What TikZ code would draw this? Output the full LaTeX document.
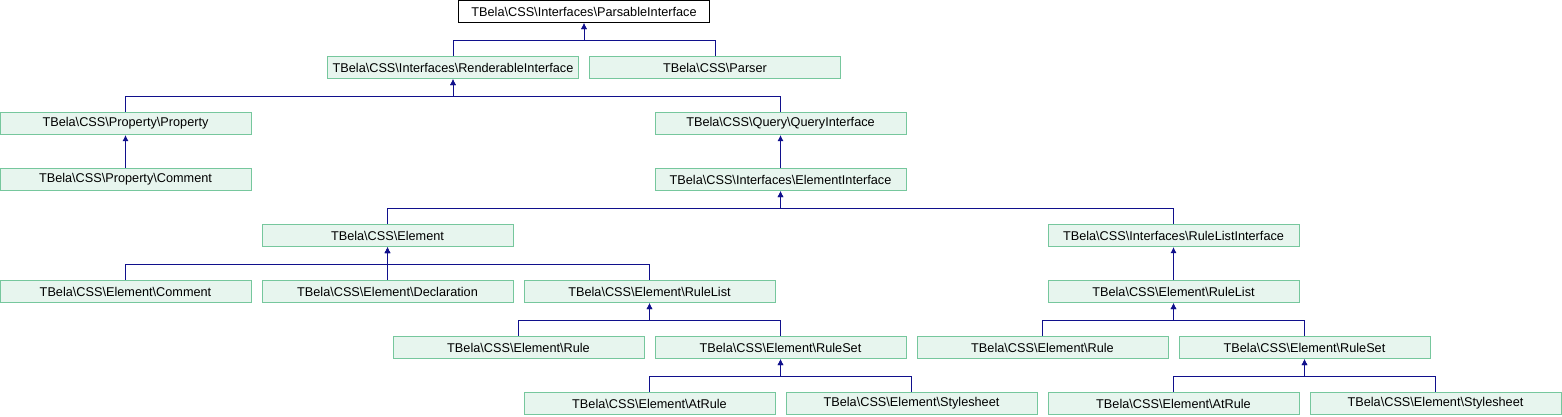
\documentclass[tikz,border=0pt]{standalone}
\usepackage{fontspec}
\setmainfont{Liberation Sans}
\usetikzlibrary{arrows.meta}
\definecolor{clsfill}{HTML}{E7F5EE}
\definecolor{clsline}{HTML}{76C79D}
\definecolor{inhblue}{HTML}{10108C}
\newcommand{\bks}{\textbackslash}
\begin{document}
\begin{tikzpicture}[x=1pt, y=-1pt,
		cls/.style={rectangle, draw=clsline, fill=clsfill, line width=1pt, minimum width=251pt, minimum height=22pt, inner sep=0pt, font=\fontsize{12.7}{14}\selectfont},
		root/.style={cls, draw=black, fill=white},
		inh/.style={{Latex[length=6pt,width=6pt]}-, draw=inhblue, line width=1pt}
		]
		\useasboundingbox (0,0) rectangle (1562,416);
		% row 0 and 1
		\node[root] (parsable) at (584,11.5) {TBela\bks CSS\bks Interfaces\bks ParsableInterface};
		\node[cls] (renderable) at (453,67.5) {TBela\bks CSS\bks Interfaces\bks RenderableInterface};
		\node[cls] (parser) at (715,67.5) {TBela\bks CSS\bks Parser};
		
		% row 2 and 3
		\node[cls] (property) at (125.5,123.5) {TBela\bks CSS\bks Property\bks Property};
		\node[cls] (query) at (780.5,123.5) {TBela\bks CSS\bks Query\bks QueryInterface};
		\node[cls] (propcomment) at (125.5,179.5) {TBela\bks CSS\bks Property\bks Comment};
		\node[cls] (eliface) at (780.5,179.5) {TBela\bks CSS\bks Interfaces\bks ElementInterface};
		
		% row 4 and 5
		\node[cls] (element) at (387.5,235.5) {TBela\bks CSS\bks Element};
		\node[cls] (rliface) at (1173.5,235.5) {TBela\bks CSS\bks Interfaces\bks RuleListInterface};
		\node[cls] (elcomment) at (125.5,291.5) {TBela\bks CSS\bks Element\bks Comment};
		\node[cls] (declaration) at (387.5,291.5) {TBela\bks CSS\bks Element\bks Declaration};
		\node[cls] (rulelist) at (649.5,291.5) {TBela\bks CSS\bks Element\bks RuleList};
		\node[cls] (rulelistb) at (1173.5,291.5) {TBela\bks CSS\bks Element\bks RuleList};
		
		% row 6 and 7
		\node[cls] (rule) at (518.5,347.5) {TBela\bks CSS\bks Element\bks Rule};
		\node[cls] (ruleset) at (780.5,347.5) {TBela\bks CSS\bks Element\bks RuleSet};
		\node[cls] (ruleb) at (1042.5,347.5) {TBela\bks CSS\bks Element\bks Rule};
		\node[cls] (rulesetb) at (1304.5,347.5) {TBela\bks CSS\bks Element\bks RuleSet};
		\node[cls] (atrule) at (649.5,403.5) {TBela\bks CSS\bks Element\bks AtRule};
		\node[cls] (stylesheet) at (911.5,403.5) {TBela\bks CSS\bks Element\bks Stylesheet};
		\node[cls] (atruleb) at (1173.5,403.5) {TBela\bks CSS\bks Element\bks AtRule};
		\node[cls] (stylesheetb) at (1435.5,403.5) {TBela\bks CSS\bks Element\bks Stylesheet};
		
		% inheritance connectors, tip at the parent
		\draw[inh] (parsable.south) -- ++(0,17) -| (renderable.north);
		\draw[inh] (parsable.south) -- ++(0,17) -| (parser.north);
		\draw[inh] (renderable.south) -- ++(0,17) -| (property.north);
		\draw[inh] (renderable.south) -- ++(0,17) -| (query.north);
		\draw[inh] (property.south) -- (propcomment.north);
		\draw[inh] (query.south) -- (eliface.north);
		\draw[inh] (eliface.south) -- ++(0,17) -| (element.north);
		\draw[inh] (eliface.south) -- ++(0,17) -| (rliface.north);
		\draw[inh] (element.south) -- ++(0,17) -| (elcomment.north);
		\draw[inh] (element.south) -- (declaration.north);
		\draw[inh] (element.south) -- ++(0,17) -| (rulelist.north);
		\draw[inh] (rliface.south) -- (rulelistb.north);
		\draw[inh] (rulelist.south) -- ++(0,17) -| (rule.north);
		\draw[inh] (rulelist.south) -- ++(0,17) -| (ruleset.north);
		\draw[inh] (rulelistb.south) -- ++(0,17) -| (ruleb.north);
		\draw[inh] (rulelistb.south) -- ++(0,17) -| (rulesetb.north);
		\draw[inh] (ruleset.south) -- ++(0,17) -| (atrule.north);
		\draw[inh] (ruleset.south) -- ++(0,17) -| (stylesheet.north);
		\draw[inh] (rulesetb.south) -- ++(0,17) -| (atruleb.north);
		\draw[inh] (rulesetb.south) -- ++(0,17) -| (stylesheetb.north);
	\end{tikzpicture}
\end{document}
